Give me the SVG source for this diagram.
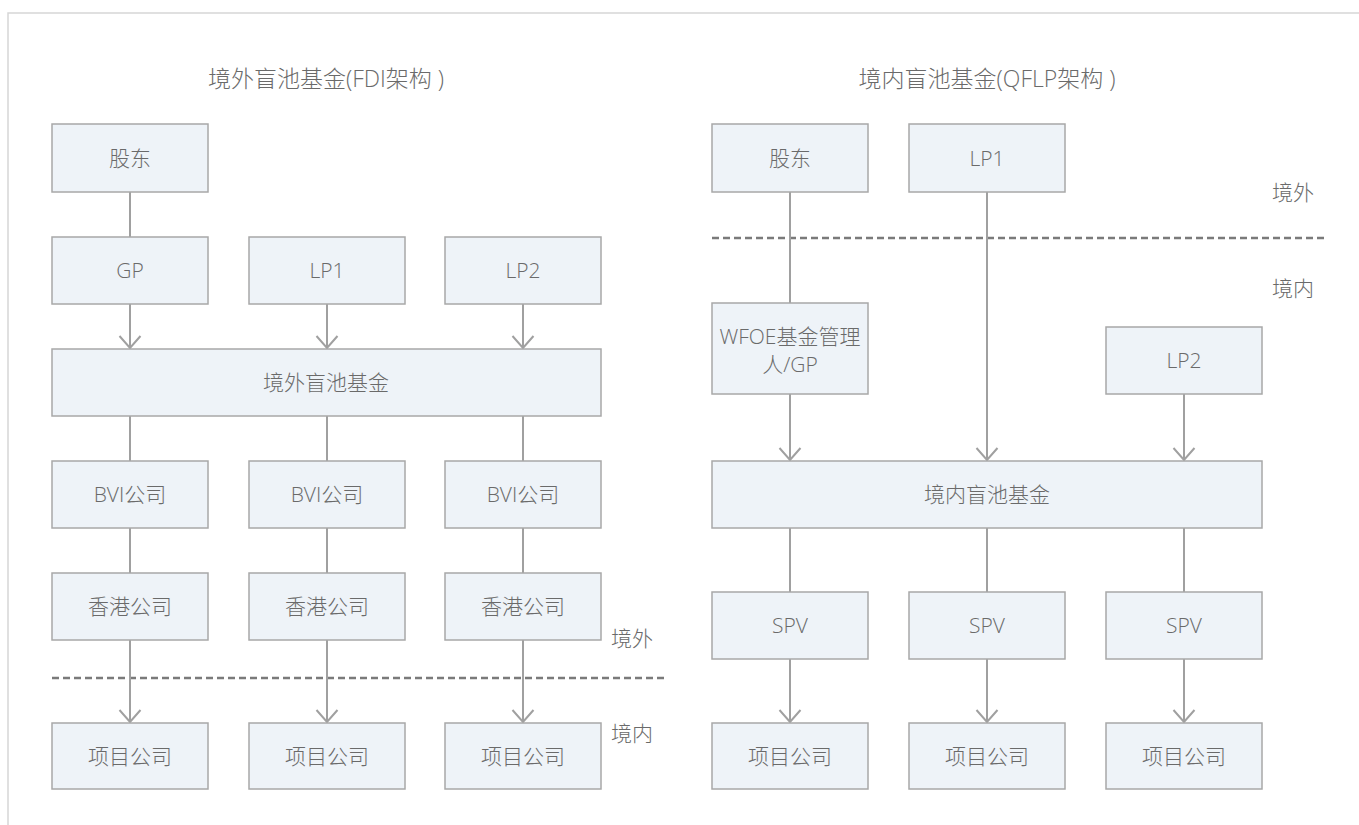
<svg xmlns="http://www.w3.org/2000/svg" width="1359" height="825" viewBox="0 0 1359 825">
<style>
.box{fill:#eef3f8;stroke:#a8a8a8;stroke-width:1.5}
.t{font-family:"Open Sans","Noto Sans CJK SC",sans-serif;font-weight:300;font-size:21px;fill:#6a6a6a;text-anchor:middle;dominant-baseline:central}
.title{font-size:23px}
.lbl{text-anchor:start}
.c{stroke:#a0a0a0;stroke-width:2;fill:none}
.dash{stroke:#7a7a7a;stroke-width:2.5;stroke-dasharray:7 4;fill:none}
</style>
<defs>
<marker id="arr" markerUnits="userSpaceOnUse" markerWidth="18" markerHeight="28" viewBox="-15 -14 18 28" refX="0" refY="0" orient="auto" overflow="visible">
<path d="M-12,-10.5 L0,0 L-12,10.5" fill="none" stroke="#a0a0a0" stroke-width="2"/>
</marker>
</defs>
<rect x="0" y="0" width="1359" height="825" fill="#ffffff"/>
<path d="M8,825 L8,13 L1359,13" fill="none" stroke="#d6d6d6" stroke-width="1.5"/>

<text class="t title" x="326" y="78">境外盲池基金(FDI架构 )</text>
<text class="t title" x="987" y="78">境内盲池基金(QFLP架构 )</text>

<g id="dividers">
<line class="dash" x1="52" y1="678" x2="666" y2="678"/>
<line class="dash" x1="712" y1="238" x2="1325" y2="238"/>
<text class="t lbl" x="611" y="638">境外</text>
<text class="t lbl" x="611" y="733">境内</text>
<text class="t lbl" x="1272" y="192">境外</text>
<text class="t lbl" x="1272" y="288">境内</text>
</g>

<g id="connectors">
<line class="c" x1="130" y1="192" x2="130" y2="237"/>
<line class="c" x1="130" y1="304" x2="130" y2="348" marker-end="url(#arr)"/>
<line class="c" x1="327" y1="304" x2="327" y2="348" marker-end="url(#arr)"/>
<line class="c" x1="523" y1="304" x2="523" y2="348" marker-end="url(#arr)"/>
<line class="c" x1="130" y1="416" x2="130" y2="461"/>
<line class="c" x1="327" y1="416" x2="327" y2="461"/>
<line class="c" x1="523" y1="416" x2="523" y2="461"/>
<line class="c" x1="130" y1="528" x2="130" y2="573"/>
<line class="c" x1="327" y1="528" x2="327" y2="573"/>
<line class="c" x1="523" y1="528" x2="523" y2="573"/>
<line class="c" x1="130" y1="640" x2="130" y2="722" marker-end="url(#arr)"/>
<line class="c" x1="327" y1="640" x2="327" y2="722" marker-end="url(#arr)"/>
<line class="c" x1="523" y1="640" x2="523" y2="722" marker-end="url(#arr)"/>

<line class="c" x1="790" y1="192" x2="790" y2="303"/>
<line class="c" x1="790" y1="394" x2="790" y2="460" marker-end="url(#arr)"/>
<line class="c" x1="987" y1="192" x2="987" y2="460" marker-end="url(#arr)"/>
<line class="c" x1="1184" y1="394" x2="1184" y2="460" marker-end="url(#arr)"/>
<line class="c" x1="790" y1="528" x2="790" y2="592"/>
<line class="c" x1="987" y1="528" x2="987" y2="592"/>
<line class="c" x1="1184" y1="528" x2="1184" y2="592"/>
<line class="c" x1="790" y1="659" x2="790" y2="722" marker-end="url(#arr)"/>
<line class="c" x1="987" y1="659" x2="987" y2="722" marker-end="url(#arr)"/>
<line class="c" x1="1184" y1="659" x2="1184" y2="722" marker-end="url(#arr)"/>
</g>

<g id="L-shareholder"><rect class="box" x="52" y="124" width="156" height="68"/><text class="t" x="130" y="158">股东</text></g>
<g id="L-GP"><rect class="box" x="52" y="237" width="156" height="67"/><text class="t" x="130" y="270">GP</text></g>
<g id="L-LP1"><rect class="box" x="249" y="237" width="156" height="67"/><text class="t" x="327" y="270">LP1</text></g>
<g id="L-LP2"><rect class="box" x="445" y="237" width="156" height="67"/><text class="t" x="523" y="270">LP2</text></g>
<g id="L-fund"><rect class="box" x="52" y="349" width="549" height="67"/><text class="t" x="326" y="382">境外盲池基金</text></g>
<g id="L-BVI1"><rect class="box" x="52" y="461" width="156" height="67"/><text class="t" x="130" y="494">BVI公司</text></g>
<g id="L-BVI2"><rect class="box" x="249" y="461" width="156" height="67"/><text class="t" x="327" y="494">BVI公司</text></g>
<g id="L-BVI3"><rect class="box" x="445" y="461" width="156" height="67"/><text class="t" x="523" y="494">BVI公司</text></g>
<g id="L-HK1"><rect class="box" x="52" y="573" width="156" height="67"/><text class="t" x="130" y="606">香港公司</text></g>
<g id="L-HK2"><rect class="box" x="249" y="573" width="156" height="67"/><text class="t" x="327" y="606">香港公司</text></g>
<g id="L-HK3"><rect class="box" x="445" y="573" width="156" height="67"/><text class="t" x="523" y="606">香港公司</text></g>
<g id="L-proj1"><rect class="box" x="52" y="723" width="156" height="66"/><text class="t" x="130" y="756">项目公司</text></g>
<g id="L-proj2"><rect class="box" x="249" y="723" width="156" height="66"/><text class="t" x="327" y="756">项目公司</text></g>
<g id="L-proj3"><rect class="box" x="445" y="723" width="156" height="66"/><text class="t" x="523" y="756">项目公司</text></g>

<g id="R-shareholder"><rect class="box" x="712" y="124" width="156" height="68"/><text class="t" x="790" y="158">股东</text></g>
<g id="R-LP1"><rect class="box" x="909" y="124" width="156" height="68"/><text class="t" x="987" y="158">LP1</text></g>
<g id="R-WFOE"><rect class="box" x="712" y="303" width="156" height="91"/><text class="t" x="790" y="336">WFOE基金管理</text><text class="t" x="790" y="364">人/GP</text></g>
<g id="R-LP2"><rect class="box" x="1106" y="327" width="156" height="67"/><text class="t" x="1184" y="360">LP2</text></g>
<g id="R-fund"><rect class="box" x="712" y="461" width="550" height="67"/><text class="t" x="987" y="494">境内盲池基金</text></g>
<g id="R-SPV1"><rect class="box" x="712" y="592" width="156" height="67"/><text class="t" x="790" y="625">SPV</text></g>
<g id="R-SPV2"><rect class="box" x="909" y="592" width="156" height="67"/><text class="t" x="987" y="625">SPV</text></g>
<g id="R-SPV3"><rect class="box" x="1106" y="592" width="156" height="67"/><text class="t" x="1184" y="625">SPV</text></g>
<g id="R-proj1"><rect class="box" x="712" y="723" width="156" height="66"/><text class="t" x="790" y="756">项目公司</text></g>
<g id="R-proj2"><rect class="box" x="909" y="723" width="156" height="66"/><text class="t" x="987" y="756">项目公司</text></g>
<g id="R-proj3"><rect class="box" x="1106" y="723" width="156" height="66"/><text class="t" x="1184" y="756">项目公司</text></g>
</svg>
